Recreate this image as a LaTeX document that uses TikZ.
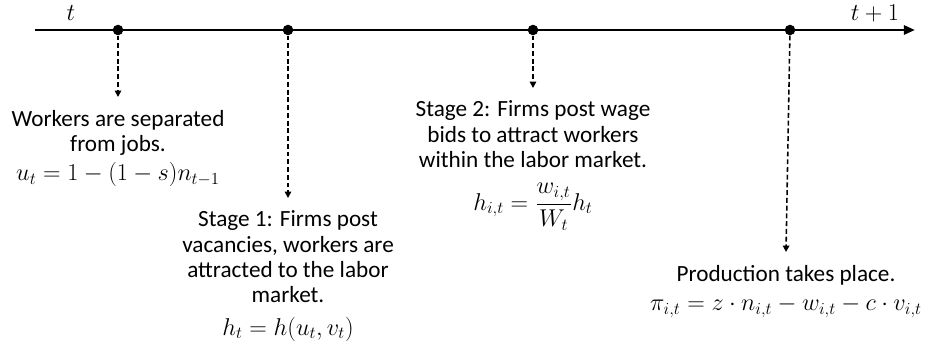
\documentclass[tikz,border=0pt]{standalone}
\usepackage{amsmath}
\usepackage{fontspec}
\setmainfont{Carlito}
\usetikzlibrary{arrows.meta, positioning}
\newcommand{\eqfont}{\fontsize{18.5}{20}\selectfont}

\begin{document}
\begin{tikzpicture}[
    x=0.025cm, y=-0.025cm,
    >=Stealth,
    every node/.style={font=\fontsize{16.5}{18}\selectfont},
    event/.style={circle, fill=black, inner sep=0pt, minimum size=7.5pt},
    stagetext/.style={align=center, anchor=north, inner sep=9pt},
    timeline/.style={-{Triangle[length=8pt, width=6.5pt]}, line width=2pt},
    droparrow/.style={-{Triangle[length=4.5pt, width=4.5pt]}, line width=1.1pt,
        dash pattern=on 3.5pt off 2pt},
    ticklabel/.style={font=\eqfont, inner sep=0pt},
]
\useasboundingbox (0,0) rectangle (927,351);

%% ============ TIME AXIS ============
\coordinate (tstart) at (35,30);
\coordinate (tend) at (915,30);
\draw[timeline] (tstart) -- (tend);

\node[ticklabel] (tlab) at (71,13) {$t$};
\node[ticklabel] (tnext) at (875,13) {$t+1$};

%% event points on the axis
\node[event] (sep) at (118,30) {};
\node[event] (stage1) at (288,30) {};
\node[event] (stage2) at (533,30) {};
\node[event] (prod) at (790,30) {};

%% ============ DESCRIPTIONS ============
\node[stagetext] (septext) at (118,97) {%
    Workers are separated\\
    from jobs.\\[3pt]
    {\eqfont $u_t = 1 - (1-s)n_{t-1}$}%
};

\node[stagetext] (stage1text) at (288,198) {%
    Stage 1: Firms post\\
    vacancies, workers are\\
    attracted to the labor\\
    market.\\[5pt]
    {\eqfont $h_t = h(u_t, v_t)$}%
};

\node[stagetext] (stage2text) at (533,88) {%
    Stage 2: Firms post wage\\
    bids to attract workers\\
    within the labor market.\\[10pt]
    {\eqfont $h_{i,t} = \dfrac{w_{i,t}}{W_t}h_t$}%
};

\node[stagetext] (prodtext) at (786,252) {%
    Production takes place.\\[3pt]
    {\eqfont $\pi_{i,t} = z \cdot n_{i,t} - w_{i,t} - c \cdot v_{i,t}$}%
};

%% ============ DROP ARROWS ============
\draw[droparrow] (sep) -- (septext.north);
\draw[droparrow] (stage1) -- (stage1text.north);
\draw[droparrow] (stage2) -- (stage2text.north);
\draw[droparrow] (prod) -- (prodtext.north);

\end{tikzpicture}
\end{document}
